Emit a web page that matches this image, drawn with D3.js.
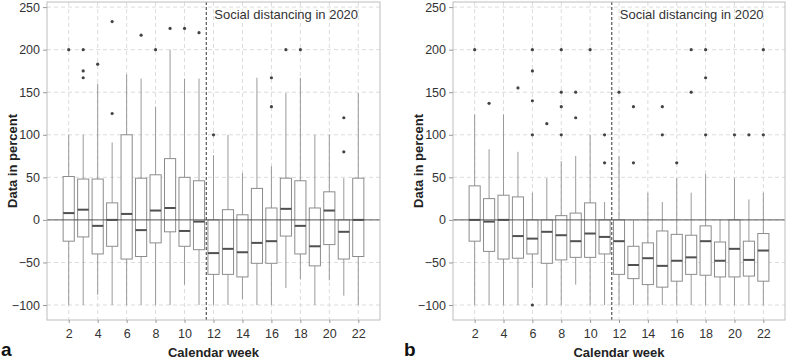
<!DOCTYPE html>
<html>
<head>
<meta charset="utf-8">
<script src="https://cdn.jsdelivr.net/npm/d3@7"></script>
<style>
  body { margin: 0; background: #fff; }
  svg text { font-family: "Liberation Sans Narrow", "Arial Narrow", "Liberation Sans", Arial, sans-serif; }
</style>
</head>
<body>
<svg id="chart" width="789" height="360"></svg>
<script>
// calendar weeks 2..22
const weeks = d3.range(2, 23);
const xTicks = [2, 4, 6, 8, 10, 12, 14, 16, 18, 20, 22];
const yTicks = [-100, -50, 0, 50, 100, 150, 200, 250];
const noteLabel = "Social distancing in 2020";

// panel a
const aLow  = [-100, -100, -88, -100, -100, -100, -100, -100, -76, -100, -100, -100, -93, -100, -100, -80, -70, -100, -71, -89, -100];
const aQ1   = [-25, -20, -40, -31, -46, -43, -27, -14, -31, -35, -64, -64, -67, -51, -51, -19, -40, -54, -29, -46, -43];
const aMed  = [8, 12, -7, 0, 7, -12, 11, 14, -13, -2, -39, -34, -38, -27, -25, 13, -7, -31, 11, -14, 0];
const aQ3   = [51, 48, 48, 20, 100, 49, 53, 72, 50, 46, 0, 12, 6, 37, 14, 49, 46, 14, 33, 0, 49];
const aHigh = [100, 100, 160, 91, 171, 166, 133, 200, 166, 166, 76, 100, 55, 167, 63, 149, 167, 100, 100, 49, 149];
const aOut  = [[200], [200, 175, 167], [183], [233, 125], [], [217], [200], [225], [225], [220], [100], [], [], [], [167, 133], [200], [200], [], [], [120, 80], []];

// panel b
const bLow  = [-100, -100, -100, -100, -80, -100, -100, -76, -100, -100, -100, -100, -100, -100, -100, -100, -100, -100, -100, -100, -100];
const bQ1   = [-25, -37, -46, -45, -40, -51, -47, -44, -44, -40, -64, -69, -76, -79, -72, -64, -65, -67, -67, -66, -72];
const bMed  = [0, -2, 0, -19, -22, -14, -18, -25, -16, -20, -25, -53, -45, -54, -48, -44, -25, -48, -34, -47, -36];
const bQ3   = [40, 25, 29, 27, 0, 0, 5, 8, 20, 0, 0, -31, -27, -13, -17, -18, -7, -26, 0, -25, -16];
const bHigh = [124, 83, 124, 80, 32, 49, 69, 75, 100, 21, 75, 0, 32, 21, 49, 32, 54, 0, 49, 24, 32];
const bOut  = [[200], [137], [], [155], [200, 175, 140, 100, -100], [113], [200, 150, 133, 100], [150, 120], [200], [100, 67], [150], [133, 67], [], [133, 100], [67], [200, 150], [200, 167, 100], [], [100], [100], [200, 100]];

const svg = d3.select("#chart");
const plotTop = 2, plotBottom = 320;
const y = d3.scaleLinear().domain([-117.6, 256]).range([plotBottom, plotTop]);

function panel(left, right, low, q1, med, q3, high, out, letter, letterX) {
   const x = d3.scaleLinear().domain([0.5, 23.5]).range([left, right]);
   const g = svg.append("g");
   const bw = (x(1) - x(0)) * 0.77;

   // grid
   g.selectAll(".gx").data(xTicks).join("line")
      .attr("x1", d => x(d)).attr("x2", d => x(d))
      .attr("y1", plotTop).attr("y2", plotBottom)
      .attr("stroke", "#dcdcdc").attr("stroke-dasharray", "4,3");
   g.selectAll(".gy").data(yTicks).join("line")
      .attr("x1", left).attr("x2", right)
      .attr("y1", d => y(d)).attr("y2", d => y(d))
      .attr("stroke", "#dcdcdc").attr("stroke-dasharray", "4,3");

   // whiskers
   g.selectAll(".wh").data(weeks).join("line")
      .attr("x1", d => x(d)).attr("x2", d => x(d))
      .attr("y1", (d, i) => y(low[i])).attr("y2", (d, i) => y(high[i]))
      .attr("stroke", "#9a9a9a").attr("stroke-width", 1);

   // boxes
   g.selectAll(".bx").data(weeks).join("rect")
      .attr("x", d => x(d) - bw / 2).attr("width", bw)
      .attr("y", (d, i) => y(q3[i]))
      .attr("height", (d, i) => Math.max(0.5, y(q1[i]) - y(q3[i])))
      .attr("fill", "#fff").attr("stroke", "#8c8c8c").attr("stroke-width", 1);

   // zero line
   g.append("line")
      .attr("x1", left).attr("x2", right)
      .attr("y1", y(0)).attr("y2", y(0))
      .attr("stroke", "#555").attr("stroke-width", 1);

   // medians
   g.selectAll(".md").data(weeks).join("line")
      .attr("x1", d => x(d) - bw / 2).attr("x2", d => x(d) + bw / 2)
      .attr("y1", (d, i) => y(med[i])).attr("y2", (d, i) => y(med[i]))
      .attr("stroke", "#505050").attr("stroke-width", 2);

   // outliers
   weeks.forEach((w, i) => {
      out[i].forEach(v => g.append("circle")
         .attr("cx", x(w)).attr("cy", y(v)).attr("r", 1.6).attr("fill", "#444"));
   });

   // social distancing marker
   g.append("line")
      .attr("x1", x(11.5)).attr("x2", x(11.5))
      .attr("y1", plotTop).attr("y2", plotBottom)
      .attr("stroke", "#333").attr("stroke-width", 1).attr("stroke-dasharray", "3,2");
   g.append("text")
      .attr("x", x(11.5) + 8).attr("y", 19)
      .attr("font-size", 13).attr("fill", "#333")
      .text(noteLabel);

   // frame
   g.append("rect")
      .attr("x", left).attr("y", plotTop)
      .attr("width", right - left).attr("height", plotBottom - plotTop)
      .attr("fill", "none").attr("stroke", "#bdbdbd");

   // axes
   const ax = g.append("g").attr("transform", `translate(0,${plotBottom})`)
      .call(d3.axisBottom(x).tickValues(xTicks).tickSize(3).tickPadding(6));
   const ay = g.append("g").attr("transform", `translate(${left},0)`)
      .call(d3.axisLeft(y).tickValues(yTicks).tickSize(4).tickPadding(3));
   [ax, ay].forEach(a => {
      a.select(".domain").remove();
      a.selectAll("line").attr("stroke", "#999");
      a.selectAll("text").attr("font-size", 12.5).attr("fill", "#333")
         .attr("font-family", "'Liberation Sans Narrow', 'Arial Narrow', sans-serif");
   });

   g.append("text")
      .attr("x", (left + right) / 2).attr("y", 357)
      .attr("text-anchor", "middle").attr("font-size", 13).attr("font-weight", "bold").attr("fill", "#222")
      .text("Calendar week");
   g.append("text")
      .attr("transform", `translate(${left - 30},${(plotTop + plotBottom) / 2}) rotate(-90)`)
      .attr("text-anchor", "middle").attr("font-size", 13).attr("font-weight", "bold").attr("fill", "#222")
      .text("Data in percent");
   g.append("text")
      .attr("x", letterX).attr("y", 356)
      .attr("font-size", 19).attr("font-weight", "bold").attr("fill", "#111")
      .text(letter);
}

panel(47, 380, aLow, aQ1, aMed, aQ3, aHigh, aOut, "a", 1);
panel(453, 785, bLow, bQ1, bMed, bQ3, bHigh, bOut, "b", 404);
</script>
</body>
</html>
